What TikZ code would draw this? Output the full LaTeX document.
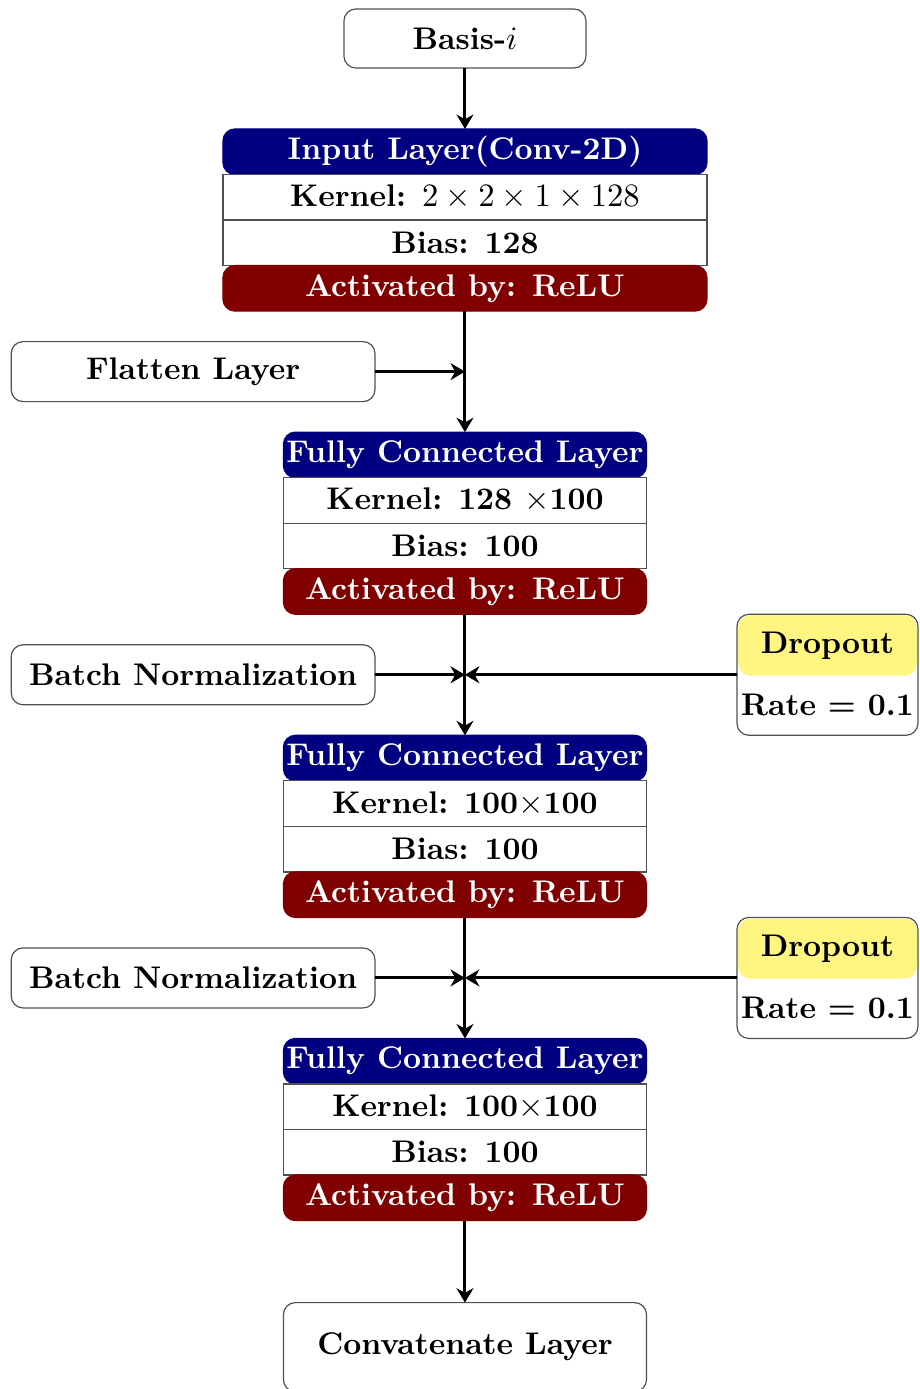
\documentclass[tikz,border=0pt]{standalone}
\usepackage{xcolor}
\usetikzlibrary{arrows.meta,calc,positioning}
\definecolor{NetBlue}{HTML}{000080}
\definecolor{NetRed}{HTML}{800000}
\definecolor{NetYellow}{HTML}{FFF580}
\definecolor{NetLine}{HTML}{505050}
\newcommand{\netfont}{\fontsize{10.5}{12.6}\selectfont\bfseries}
\tikzset{
  net box/.style={
    draw=NetLine,
    fill=white,
    rounded corners=4pt,
    align=center,
    inner sep=2pt,
    outer sep=0pt,
    font=\netfont
  },
  net head/.style={
    draw=NetBlue,
    fill=NetBlue,
    text=white,
    rounded corners=4pt,
    minimum height=0.537cm,
    inner sep=0pt,
    outer sep=0pt,
    font=\netfont
  },
  net row/.style={
    draw=NetLine,
    fill=white,
    minimum height=0.537cm,
    inner sep=0pt,
    outer sep=0pt,
    font=\netfont
  },
  net act/.style={
    draw=NetRed,
    fill=NetRed,
    text=white,
    rounded corners=4pt,
    minimum height=0.537cm,
    inner sep=0pt,
    outer sep=0pt,
    font=\netfont
  },
  net drop head/.style={
    fill=NetYellow,
    rounded corners=4pt,
    inner sep=0pt,
    outer sep=0pt,
    font=\netfont
  },
  net flow/.style={-{Stealth[length=1.7mm,width=2mm]},draw=black,line width=1pt}
}

\begin{document}
\begin{tikzpicture}
  \useasboundingbox (0,0) rectangle (10.849,-16.380);

  \node[net box,minimum width=2.854cm,minimum height=0.696cm] (basis) at (5.483,-0.454) {Basis-$i$};

  % input layer
  \node[net head,minimum width=5.708cm,below=0.719cm of basis] (inhead) {Input Layer(Conv-2D)};
  \node[net row,minimum width=5.708cm,below=0pt of inhead] (inkernel) {Kernel: $2\times2\times1\times128$};
  \node[net row,minimum width=5.708cm,below=0pt of inkernel] (inbias) {Bias: 128};
  \node[net act,minimum width=5.708cm,below=0pt of inbias] (inact) {Activated by: ReLU};

  % fully connected 1
  \node[net head,minimum width=4.281cm,below=1.427cm of inact] (fca) {Fully Connected Layer};
  \node[net row,minimum width=4.281cm,below=0pt of fca] (fcakernel) {Kernel: 128 $\times$100};
  \node[net row,minimum width=4.281cm,below=0pt of fcakernel] (fcabias) {Bias: 100};
  \node[net act,minimum width=4.281cm,below=0pt of fcabias] (fcaact) {Activated by: ReLU};

  % fully connected 2
  \node[net head,minimum width=4.281cm,below=1.427cm of fcaact] (fcb) {Fully Connected Layer};
  \node[net row,minimum width=4.281cm,below=0pt of fcb] (fcbkernel) {Kernel: 100$\times$100};
  \node[net row,minimum width=4.281cm,below=0pt of fcbkernel] (fcbbias) {Bias: 100};
  \node[net act,minimum width=4.281cm,below=0pt of fcbbias] (fcbact) {Activated by: ReLU};

  % fully connected 3
  \node[net head,minimum width=4.281cm,below=1.427cm of fcbact] (fcc) {Fully Connected Layer};
  \node[net row,minimum width=4.281cm,below=0pt of fcc] (fcckernel) {Kernel: 100$\times$100};
  \node[net row,minimum width=4.281cm,below=0pt of fcckernel] (fccbias) {Bias: 100};
  \node[net act,minimum width=4.281cm,below=0pt of fccbias] (fccact) {Activated by: ReLU};

  \node[net box,minimum width=4.281cm,minimum height=1.05cm,below=0.967cm of fccact] (concat) {Convatenate Layer};

  % junctions on the main line
  \coordinate (jflat) at ($(inact.south)!0.5!(fca.north)$);
  \coordinate (jbna) at ($(fcaact.south)!0.5!(fcb.north)$);
  \coordinate (jbnb) at ($(fcbact.south)!0.5!(fcc.north)$);

  \node[net box,minimum width=4.29cm,minimum height=0.708cm,left=1.061cm of jflat] (flatten) {Flatten Layer};
  \node[net box,minimum width=4.29cm,minimum height=0.708cm,left=1.061cm of jbna] (bna) {Batch Normalization};
  \node[net box,minimum width=4.29cm,minimum height=0.708cm,left=1.061cm of jbnb] (bnb) {Batch Normalization};

  % dropout boxes
  \node[net box,minimum width=2.134cm,minimum height=1.427cm,right=3.208cm of jbna] (dropa) {};
  \node[net drop head,minimum width=2.134cm-0.8pt,minimum height=0.708cm,anchor=north] (dropahead) at ([yshift=-0.4pt]dropa.north) {Dropout};
  \node[font=\netfont,inner sep=0pt,minimum height=0.708cm,anchor=south] (droparate) at (dropa.south) {Rate = 0.1};
  \node[net box,minimum width=2.134cm,minimum height=1.427cm,right=3.208cm of jbnb] (dropb) {};
  \node[net drop head,minimum width=2.134cm-0.8pt,minimum height=0.708cm,anchor=north] (dropbhead) at ([yshift=-0.4pt]dropb.north) {Dropout};
  \node[font=\netfont,inner sep=0pt,minimum height=0.708cm,anchor=south] (dropbrate) at (dropb.south) {Rate = 0.1};

  \draw[net flow] (basis) -- (inhead);
  \draw[net flow] (inact) -- (fca);
  \draw[net flow] (fcaact) -- (fcb);
  \draw[net flow] (fcbact) -- (fcc);
  \draw[net flow] (fccact) -- (concat);

  \draw[net flow] (flatten) -- (jflat);
  \draw[net flow] (bna) -- (jbna);
  \draw[net flow] (dropa) -- (jbna);
  \draw[net flow] (bnb) -- (jbnb);
  \draw[net flow] (dropb) -- (jbnb);
\end{tikzpicture}
\end{document}
